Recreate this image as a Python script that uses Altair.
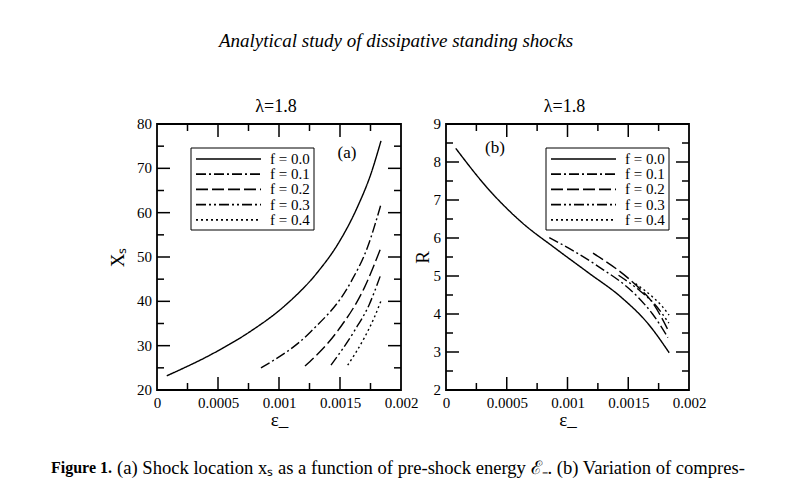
import pandas as pd
import altair as alt

SERIF = "Liberation Serif"

f_labels = ["f = 0.0", "f = 0.1", "f = 0.2", "f = 0.3", "f = 0.4"]
dashes = [[1, 0], [10, 3, 2, 3], [12, 4], [10, 3, 2, 3, 2, 3], [2, 3]]

### panel (a): shock location X_s vs epsilon
a_eps_f0 = [0.00008, 0.000497, 0.00077, 0.001043, 0.001317, 0.00148, 0.001645, 0.001754, 0.001836]
a_xs_f0 = [23.2, 28.8, 33.3, 38.9, 46.6, 52.8, 61.4, 68.8, 76.2]
a_eps_f1 = [0.000852, 0.001262, 0.00159, 0.001727, 0.001836]
a_xs_f1 = [25.0, 33.2, 44.4, 52.3, 61.9]
a_eps_f2 = [0.001213, 0.00148, 0.0017, 0.00183]
a_xs_f2 = [25.4, 33.3, 43.1, 51.7]
a_eps_f3 = [0.001426, 0.001617, 0.00174, 0.00183]
a_xs_f3 = [25.6, 33.3, 39.3, 45.7]
a_eps_f4 = [0.001563, 0.0017, 0.00178, 0.001836]
a_xs_f4 = [25.6, 31.8, 36.3, 40.1]

### panel (b): compression ratio R vs epsilon
b_eps_f0 = [0.00008, 0.000345, 0.00062, 0.000895, 0.00117, 0.001446, 0.001667, 0.001837]
b_r_f0 = [8.36, 7.30, 6.42, 5.74, 5.09, 4.43, 3.73, 2.98]
b_eps_f1 = [0.00085, 0.001226, 0.001584, 0.0017, 0.001826]
b_r_f1 = [6.01, 5.31, 4.43, 4.0, 3.38]
b_eps_f2 = [0.00121, 0.001556, 0.0017, 0.001832]
b_r_f2 = [5.6, 4.78, 4.3, 3.55]
b_eps_f3 = [0.00142, 0.0016, 0.00172, 0.001834]
b_r_f3 = [5.02, 4.6, 4.25, 3.76]
b_eps_f4 = [0.00156, 0.0017, 0.00178, 0.001836]
b_r_f4 = [4.8, 4.45, 4.2, 3.97]

x_labels = [0, 0.0005, 0.001, 0.0015, 0.002]
x_major = [0.0005, 0.001, 0.0015]
x_minor = [0.00025, 0.00075, 0.00125, 0.00175]
a_y_labels = [20, 30, 40, 50, 60, 70, 80]
a_y_major = [30, 40, 50, 60, 70]
a_y_minor = [25, 35, 45, 55, 65, 75]
b_y_labels = [2, 3, 4, 5, 6, 7, 8, 9]
b_y_major = [3, 4, 5, 6, 7, 8]
b_y_minor = [2.5, 3.5, 4.5, 5.5, 6.5, 7.5, 8.5]

panel_title = "λ=1.8"
header = "Analytical study of dissipative standing shocks"
caption_bold = "Figure 1."
caption_rest = "(a) Shock location xₛ as a function of pre-shock energy ℰ₋. (b) Variation of compres-"

W_A, W_B, H = 244, 243, 266


def to_frame(eps_lists, val_lists):
    rows = []
    for lab, es, vs in zip(f_labels, eps_lists, val_lists):
        for e, v in zip(es, vs):
            rows.append({"f": lab, "eps": e, "val": v})
    return pd.DataFrame(rows)


def one(text):
    return pd.DataFrame({"t": [text]})


def ticks(W, y_major, y_minor):
    out = []
    for vals, size in ((x_major, 13), (x_minor, 7)):
        base = alt.Chart(pd.DataFrame({"eps": vals})).mark_rule(color="black", strokeWidth=1.5)
        out.append(base.encode(x="eps:Q", y=alt.value(H), y2=alt.value(H - size)))
        out.append(base.encode(x="eps:Q", y=alt.value(0), y2=alt.value(size)))
    for vals, size in ((y_major, 13), (y_minor, 7)):
        base = alt.Chart(pd.DataFrame({"val": vals})).mark_rule(color="black", strokeWidth=1.5)
        out.append(base.encode(y="val:Q", x=alt.value(0), x2=alt.value(size)))
        out.append(base.encode(y="val:Q", x=alt.value(W), x2=alt.value(W - size)))
    return out


def y_tick_labels(values):
    d = pd.DataFrame({"val": values, "lab": [str(v) for v in values]})
    return alt.Chart(d).mark_text(font=SERIF, fontSize=15, align="right", baseline="middle").encode(
        y="val:Q", x=alt.value(-5), text="lab:N")


def legend(lx):
    out = [alt.Chart(one("")).mark_rect(fill="white", stroke="black", strokeWidth=1).encode(
        x=alt.value(lx), x2=alt.value(lx + 123), y=alt.value(24), y2=alt.value(106))]
    for i, lab in enumerate(f_labels):
        ry = 35 + i * 15.2
        out.append(alt.Chart(one(lab)).mark_rule(color="black", strokeWidth=1.7, strokeDash=dashes[i]).encode(
            x=alt.value(lx + 5), x2=alt.value(lx + 70), y=alt.value(ry)))
        out.append(alt.Chart(one(lab)).mark_text(font=SERIF, fontSize=15, align="left", baseline="middle").encode(
            x=alt.value(lx + 79), y=alt.value(ry), text="t:N"))
    return out


def panel(df, W, y_dom, y_labels, y_major, y_minor, y_title, y_pad, tag, tag_xy, lx, extra=()):
    lines = alt.Chart(df).mark_line(color="black", strokeWidth=1.4, interpolate="monotone").encode(
        x=alt.X("eps:Q", scale=alt.Scale(domain=[0, 0.002], nice=False, zero=False),
                axis=alt.Axis(values=x_labels, labelExpr="'' + datum.value", title="ε_",
                              titleFontSize=19, titlePadding=0, labelOverlap=False)),
        y=alt.Y("val:Q", scale=alt.Scale(domain=y_dom, nice=False, zero=False),
                axis=alt.Axis(values=y_labels, labels=False, title=y_title, titleFontSize=19,
                              titlePadding=y_pad)),
        strokeDash=alt.StrokeDash("f:N", scale=alt.Scale(domain=f_labels, range=dashes), legend=None),
    )
    label = alt.Chart(one(tag)).mark_text(font=SERIF, fontSize=17, baseline="middle").encode(
        x=alt.value(tag_xy[0]), y=alt.value(tag_xy[1]), text="t:N")
    top = alt.Chart(one(panel_title)).mark_text(font=SERIF, fontSize=18, baseline="alphabetic").encode(
        x=alt.value(W / 2 - 3), y=alt.value(-12), text="t:N")
    layers = ([lines] + ticks(W, y_major, y_minor) + [y_tick_labels(y_labels)] + legend(lx)
              + [label, top] + list(extra))
    return alt.layer(*layers).properties(width=W, height=H)


# page texts hang off panel (a), positioned relative to its plot area
page_texts = [
    alt.Chart(one("")).mark_rule(opacity=0, strokeWidth=0.01).encode(
        x=alt.value(-148), x2=alt.value(-148), y=alt.value(-115), y2=alt.value(-114)),
    alt.Chart(one(header)).mark_text(font=SERIF, fontSize=19, fontStyle="italic", align="center").encode(
        x=alt.value(239), y=alt.value(-83), text="t:N"),
    alt.Chart(one(caption_bold)).mark_text(font=SERIF, fontSize=16, fontWeight="bold", align="left").encode(
        x=alt.value(-106), y=alt.value(344), text="t:N"),
    alt.Chart(one(caption_rest)).mark_text(font=SERIF, fontSize=18.6, align="left").encode(
        x=alt.value(-40), y=alt.value(344), text="t:N"),
]

df_a = to_frame([a_eps_f0, a_eps_f1, a_eps_f2, a_eps_f3, a_eps_f4],
                [a_xs_f0, a_xs_f1, a_xs_f2, a_xs_f3, a_xs_f4])
df_b = to_frame([b_eps_f0, b_eps_f1, b_eps_f2, b_eps_f3, b_eps_f4],
                [b_r_f0, b_r_f1, b_r_f2, b_r_f3, b_r_f4])

chart_a = panel(df_a, W_A, [20, 80], a_y_labels, a_y_major, a_y_minor, "Xₛ", 30, "(a)", (190, 29), 34, page_texts)
chart_b = panel(df_b, W_B, [2, 9], b_y_labels, b_y_major, b_y_minor, "R", 14, "(b)", (49, 24), 100)

chart = alt.hconcat(chart_a, chart_b, spacing=45, bounds="flush").properties(
    padding=0
).configure_view(
    stroke="black", strokeWidth=1.8
).configure_axis(
    grid=False, ticks=False, domain=False, labelFont=SERIF, titleFont=SERIF,
    labelFontSize=15, labelColor="black", titleColor="black", titleFontWeight="normal",
    labelPadding=5, labelFlush=False, labelOverlap=False
)

chart.save("out.html", embed_options={"renderer": "svg", "actions": False})
